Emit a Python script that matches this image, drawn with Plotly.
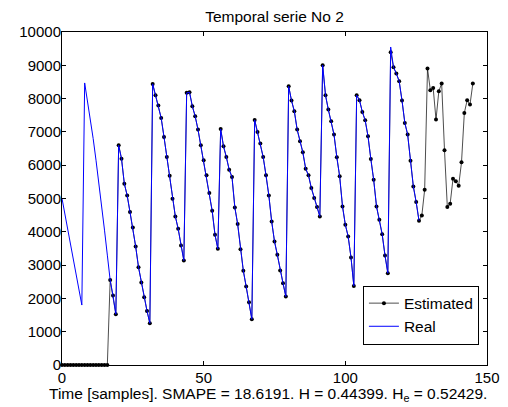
import plotly.graph_objects as go

# ---- data ----
t_est = list(range(0, 146))
est = [0, 0, 0, 0, 0, 0, 0, 0, 0, 0, 0, 0, 0, 0, 0, 0, 0,
       2550, 2086, 1524,
       6600, 6196, 5444, 5093, 4592, 4130, 3560, 2938, 2477, 2036, 1624, 1253,
       8442, 8101, 7791, 7420, 6848, 6247, 5685, 4993, 4462, 4091, 3590, 3138,
       8172, 8192, 7771, 7470, 7069, 6598, 6146, 5695, 5164, 4632, 3910, 3489,
       7089, 6568, 6247, 5866, 5645, 4733, 4231, 3479, 2828, 2357, 1885, 1374,
       7360, 6999, 6648, 6247, 5695, 5093, 4311, 3710, 3309, 2837, 2457, 2056,
       8372, 7941, 7620, 7069, 6718, 6387, 5896, 5695, 5314, 5013, 4743, 4462,
       9004, 8101, 7670, 7320, 6919, 6237, 5665, 4763, 4211, 3860, 3229, 2376,
       8101, 7951, 7600, 7350, 6868, 6186, 5565, 4763, 4362, 3930, 3289, 2757,
       9395, 8944, 8753, 8523, 7941, 7270, 6919, 6136, 5364, 4893, 4332,
       4492, 5264, 8904, 8252, 8322, 7370, 8222, 8452, 6448, 4743, 4843,
       5595, 5515, 5384, 6086, 7570, 7951, 7821, 8452]

t_real = list(range(0, 127))
real = [5000, 4540, 4080, 3620, 3160, 2700, 2240, 1800,
        8470, 7950, 7400, 6800, 6150, 5500, 4800, 4050, 3300,
        2550, 2086, 1524,
        6600, 6196, 5444, 5093, 4592, 4130, 3560, 2938, 2477, 2036, 1624, 1253,
        8442, 8101, 7791, 7420, 6848, 6247, 5685, 4993, 4462, 4091, 3590, 3138,
        8172, 8192, 7771, 7470, 7069, 6598, 6146, 5695, 5164, 4632, 3910, 3489,
        7089, 6568, 6247, 5866, 5645, 4733, 4231, 3479, 2828, 2357, 1885, 1374,
        7360, 6999, 6648, 6247, 5695, 5093, 4311, 3710, 3309, 2837, 2457, 2056,
        8372, 7941, 7620, 7069, 6718, 6387, 5896, 5695, 5314, 5013, 4743, 4462,
        9004, 8101, 7670, 7320, 6919, 6237, 5665, 4763, 4211, 3860, 3229, 2376,
        8101, 7951, 7600, 7350, 6868, 6186, 5565, 4763, 4362, 3930, 3289, 2757,
        9550, 8944, 8753, 8523, 7941, 7270, 6919, 6136, 5364, 4893, 4332]

x_ticks = [0, 50, 100, 150]
y_ticks = [0, 1000, 2000, 3000, 4000, 5000, 6000, 7000, 8000, 9000, 10000]

title_text = "Temporal serie No 2"
xlabel_text = "Time [samples]. SMAPE = 18.6191. H = 0.44399. H<sub>e</sub> = 0.52429."

FONT = "Liberation Sans, Arial, Helvetica, sans-serif"

fig = go.Figure()
fig.add_trace(go.Scatter(
    x=t_est, y=est, name="Estimated", mode="lines+markers",
    line=dict(color="black", width=0.7),
    marker=dict(color="black", size=4),
    cliponaxis=False,
))
fig.add_trace(go.Scatter(
    x=t_real, y=real, name="Real", mode="lines",
    line=dict(color="#0000ff", width=1),
))

axis_common = dict(
    showline=True, linecolor="black", linewidth=1, mirror="ticks",
    ticks="inside", ticklen=4, tickcolor="black", tickwidth=1,
    showgrid=False, zeroline=False, tickformat="d", automargin=False,
    tickfont=dict(family=FONT, size=15, color="black"),
)

fig.update_layout(
    width=508, height=407,
    margin=dict(l=62, r=21, t=32, b=42),
    paper_bgcolor="white", plot_bgcolor="white",
    font=dict(family=FONT, size=15.5, color="black"),
    title=dict(text=title_text, x=0.5, xref="paper", xanchor="center",
               y=1 - 17 / 407, yref="container", yanchor="middle",
               font=dict(family=FONT, size=15.5, color="black")),
    xaxis=dict(range=[0, 150], tickvals=x_ticks, ticklabelstandoff=-1,
               **axis_common),
    yaxis=dict(range=[0, 10000], tickvals=y_ticks, ticklabelstandoff=-3,
               **axis_common),
    legend=dict(x=0.981, y=0.150, xanchor="right", yanchor="middle",
                bordercolor="black", borderwidth=1, bgcolor="white",
                font=dict(family=FONT, size=15.5, color="black"),
                tracegroupgap=0, itemwidth=30),
    showlegend=True,
)

fig.add_annotation(
    text=xlabel_text, xref="paper", yref="paper",
    x=0.485, y=-(394 - 365) / 333, xanchor="center", yanchor="middle",
    showarrow=False, font=dict(family=FONT, size=15.5, color="black"),
)

fig.write_html(
    "out.html",
    config={"displayModeBar": False},
    post_script="document.body.style.margin='0';document.body.style.overflow='hidden';",
)
